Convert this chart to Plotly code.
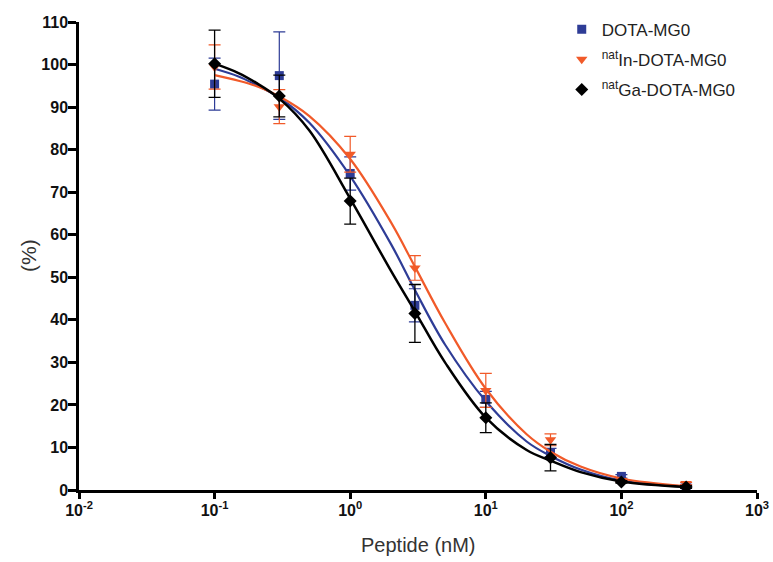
import plotly.graph_objects as go

# Measured data (mean ± SD)
conc = [0.1, 0.3, 1, 3, 10, 30, 100, 300]
dota = [95.4, 97.4, 74.4, 43.4, 21.3, 8.8, 3.2, 1.0]
dota_err = [6.1, 10.3, 3.9, 3.9, 1.9, 1.0, 0.4, 0.3]
in_dota = [99.4, 90.1, 78.9, 52.2, 23.4, 11.8, 2.2, 1.5]
in_dota_err = [5.2, 4.0, 4.2, 2.9, 4.0, 1.4, 0.3, 0.3]
ga_dota = [100.2, 92.6, 67.9, 41.5, 17.0, 7.6, 1.9, 0.7]
ga_dota_err = [7.9, 4.9, 5.4, 6.8, 3.5, 3.1, 0.3, 0.3]

# Fitted curves
curve_x = [0.1, 0.15, 0.2, 0.3, 0.5, 1, 2, 3, 5, 10, 20, 30, 50, 100, 300]
dota_fit = [99.0, 97.2, 95.3, 92.2, 86.3, 73.8, 57.8, 47.0, 34.2, 20.9, 11.4, 8.0, 4.8, 2.2, 0.8]
in_fit = [97.5, 96.2, 95.0, 92.5, 87.9, 77.8, 62.9, 52.5, 39.3, 23.8, 13.1, 9.0, 5.5, 2.7, 0.9]
ga_fit = [100.2, 98.0, 95.8, 92.0, 84.5, 68.5, 51.5, 42.0, 30.0, 17.0, 9.4, 6.9, 4.2, 2.0, 0.7]

names = ["DOTA-MG0", "<sup>nat</sup>In-DOTA-MG0", "<sup>nat</sup>Ga-DOTA-MG0"]
x_tickvals = [0.01, 0.1, 1, 10, 100, 1000]
x_ticktext = ["<b>10<sup>-2</sup></b>", "<b>10<sup>-1</sup></b>", "<b>10<sup>0</sup></b>",
              "<b>10<sup>1</sup></b>", "<b>10<sup>2</sup></b>", "<b>10<sup>3</sup></b>"]
y_tickvals = list(range(0, 111, 10))
x_title = "Peptide (nM)"
y_title = "(%)"

BLUE = "#2E3C96"
ORANGE = "#F15A29"
BLACK = "#000000"

series = [
    (names[0], dota, dota_err, dota_fit, BLUE, "square", 9, 2.2, 1.2),
    (names[1], in_dota, in_dota_err, in_fit, ORANGE, "triangle-down", 10, 2.2, 1.2),
    (names[2], ga_dota, ga_dota_err, ga_fit, BLACK, "diamond", 10, 2.5, 1.3),
]

fig = go.Figure()
for i, (name, y, err, fit, col, sym, msize, lw, ew) in enumerate(series):
    grp = f"g{i}"
    fig.add_trace(go.Scatter(
        x=curve_x, y=fit, mode="lines", line=dict(color=col, width=lw, shape="spline", smoothing=1),
        showlegend=False, hoverinfo="skip", legendgroup=grp))
    fig.add_trace(go.Scatter(
        x=conc, y=y, mode="markers", name=name, legendgroup=grp,
        marker=dict(symbol=sym, size=msize, color=col),
        error_y=dict(type="data", array=err, visible=True, color=col, thickness=ew, width=6)))

fig.update_layout(
    width=773, height=562,
    margin=dict(l=79, r=16, t=16, b=72),
    paper_bgcolor="white", plot_bgcolor="white",
    font=dict(family="Liberation Sans, Arial, sans-serif", color="#000"),
    legend=dict(x=0.712, y=1.022, xanchor="left", yanchor="top",
                font=dict(size=17, color="#222"), bgcolor="rgba(0,0,0,0)",
                tracegroupgap=5),
    xaxis=dict(type="log", range=[-2, 3], tickvals=x_tickvals, ticktext=x_ticktext,
               showline=True, linecolor="black", linewidth=2.5, ticks="outside",
               ticklen=6, tickwidth=2.5, tickcolor="black", showgrid=False, zeroline=False,
               automargin=False, ticklabelstandoff=-2,
               tickfont=dict(size=16, color="#111")),
    yaxis=dict(range=[0, 110], tickvals=y_tickvals,
               ticktext=[f"<b>{v}</b>" for v in y_tickvals],
               showline=True, linecolor="black", linewidth=2.5, ticks="outside",
               ticklen=8, tickwidth=2.5, tickcolor="black", showgrid=False, zeroline=False,
               automargin=False, ticklabelstandoff=-3,
               tickfont=dict(size=16, color="#111")),
    annotations=[
        dict(text=x_title, xref="paper", yref="paper", x=0.5, y=-0.118,
             xanchor="center", yanchor="middle", showarrow=False,
             font=dict(size=20, color="#333")),
        dict(text=y_title, xref="paper", yref="paper", x=-0.0752, y=0.5,
             xanchor="center", yanchor="middle", showarrow=False, textangle=-90,
             font=dict(size=21, color="#333")),
    ],
)

fig.write_html("out.html", config={"displayModeBar": False},
               post_script="document.body.style.margin='0';document.body.style.overflow='hidden';")
